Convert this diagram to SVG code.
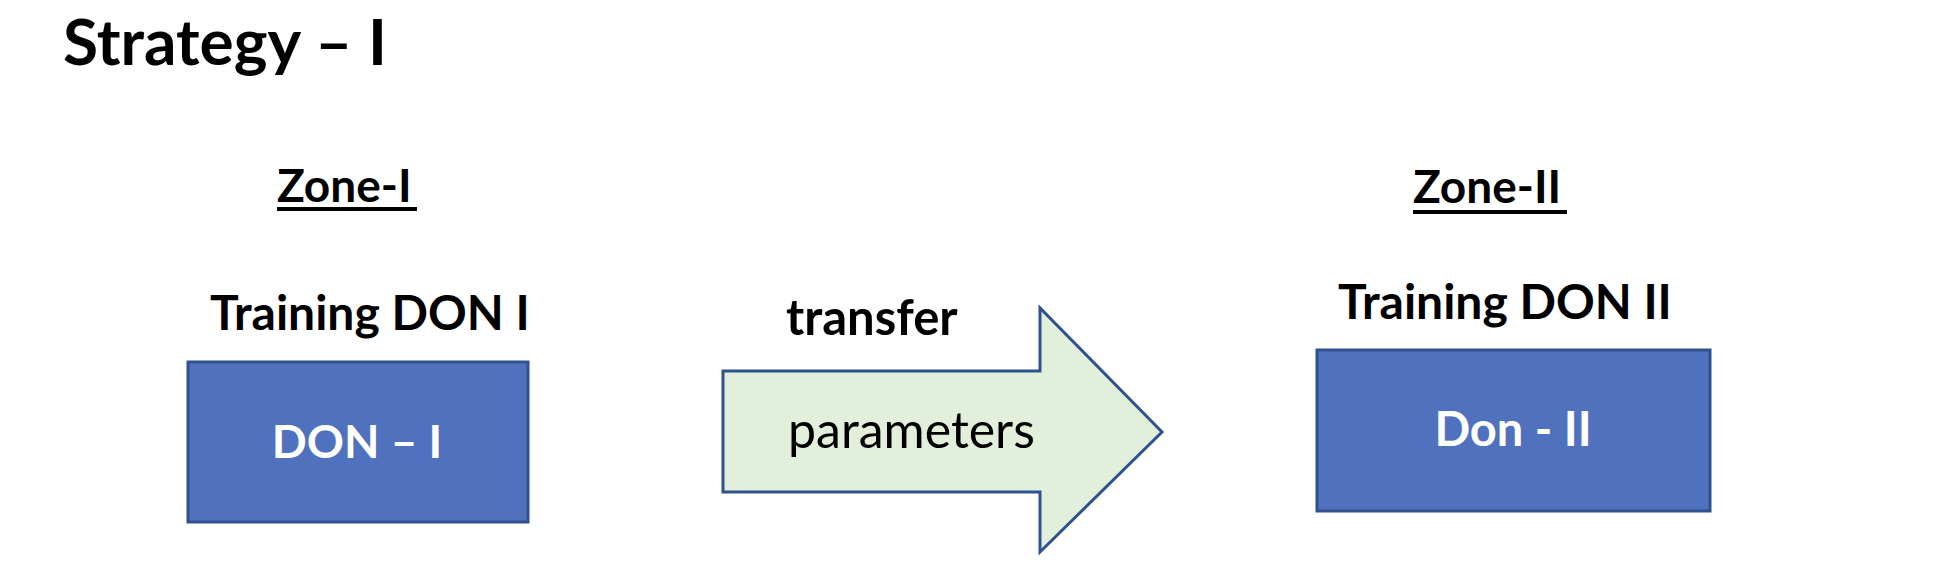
<svg xmlns="http://www.w3.org/2000/svg" width="1936" height="580" viewBox="0 0 1936 580">
<style>
.t{font-family:Lato,"Open Sans","Liberation Sans",sans-serif;font-weight:700;fill:#000}
.w{font-family:Lato,"Open Sans","Liberation Sans",sans-serif;font-weight:700;fill:#fff}
.r{font-family:Lato,"Open Sans","Liberation Sans",sans-serif;font-weight:400;fill:#000}
.box{fill:#5072BE;stroke:#2F528F;stroke-width:3}
.ul{stroke:#000;stroke-width:4}
</style>
<rect width="1936" height="580" fill="#fff"/>
<text class="t" x="63" y="65" font-size="64">Strategy – I</text>
<g id="zone1">
<text class="t" x="277" y="202" font-size="46">Zone-I</text>
<line class="ul" x1="277" y1="209" x2="417" y2="209"/>
</g>
<g id="zone2">
<text class="t" x="1413" y="203" font-size="46">Zone-II</text>
<line class="ul" x1="1413" y1="212" x2="1567" y2="212"/>
</g>
<g id="don1">
<text class="t" x="210" y="330" font-size="48">Training DON I</text>
<rect class="box" x="188" y="362" width="340" height="160"/>
<text class="w" x="357" y="458" font-size="46" text-anchor="middle">DON – I</text>
</g>
<g id="don2">
<text class="t" x="1338" y="319" font-size="48">Training DON II</text>
<rect class="box" x="1317" y="350" width="393" height="161"/>
<text class="w" x="1513" y="446" font-size="47" text-anchor="middle">Don - II</text>
</g>
<g id="connectors">
<path d="M723,371 H1040 V308 L1162,432 L1040,552 V492 H723 Z" fill="#E2EFDA" stroke="#2F528F" stroke-width="3" stroke-linejoin="miter"/>
<text class="t" x="786" y="335" font-size="49">transfer</text>
<text class="r" x="788" y="448" font-size="50">parameters</text>
</g>
</svg>
